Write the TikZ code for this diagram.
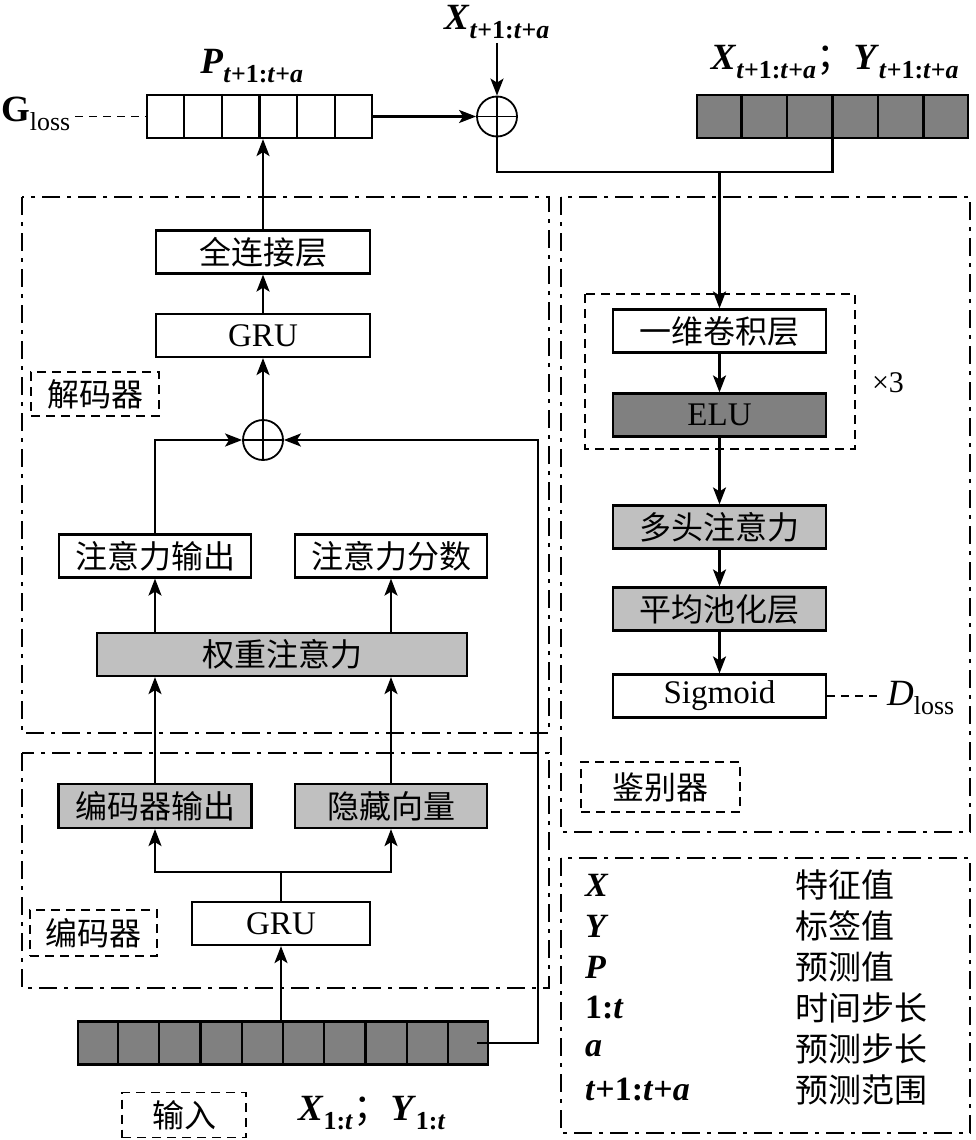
\documentclass[tikz,border=0pt]{standalone}
\usepackage{fontspec}
\setmainfont{Liberation Serif}
\newfontfamily\cjk{Noto Sans CJK SC}
\usetikzlibrary{arrows.meta, positioning, calc}
\definecolor{darkcell}{HTML}{808080}
\definecolor{lightcell}{HTML}{C0C0C0}
\newcommand{\bvar}[1]{\textbf{\textit{#1}}}
\newcommand{\futr}{\textsubscript{\bvar{t}\textbf{+1:}\bvar{t}\textbf{+}\bvar{a}}}
\newcommand{\past}{\textsubscript{\textbf{1:}\bvar{t}}}

\begin{document}
\begin{tikzpicture}[
      x=1pt, y=-1pt,
      line width=2.2pt,
      font=\fontsize{33}{35}\selectfont,
      box/.style={rectangle, draw, line width=2.2pt, inner sep=0pt,
                  minimum height=43pt, font=\cjk\fontsize{32}{34}\selectfont},
      latinbox/.style={box, font=\fontsize{33}{35}\selectfont},
      bar/.style={rectangle, draw, line width=2.2pt, inner sep=0pt, minimum height=43pt},
      sum/.style={circle, draw, line width=1.8pt, minimum size=40pt, inner sep=0pt,
                  path picture={\draw[line width=1.8pt]
                    (path picture bounding box.north) -- (path picture bounding box.south)
                    (path picture bounding box.west) -- (path picture bounding box.east);}},
      frame/.style={line width=2.2pt, dash pattern=on 18pt off 7pt on 4pt off 7pt},
      tag/.style={draw, line width=1.8pt, dash pattern=on 9pt off 6pt, inner sep=0pt,
                  font=\cjk\fontsize{32}{34}\selectfont},
      lbl/.style={font=\fontsize{37}{39}\selectfont},
      arr/.style={-{Stealth[length=17pt, width=13pt, inset=4pt]}, line width=2.2pt}
    ]
      \useasboundingbox (0,0) rectangle (975,1140);

      % frames
      \draw[frame] (22,197) rectangle (549,733);
      \draw[frame] (22,753) rectangle (549,988);
      \draw[frame] (561,197) rectangle (970,832);
      \draw[frame] (561,858) rectangle (970,1133);
      \draw[line width=1.8pt, dash pattern=on 9pt off 6pt] (585,294) rectangle (855,449);

      % bars
      \node[bar, minimum width=225pt] (pbar) at (259.5,116.5) {};
      \node[bar, fill=darkcell, minimum width=271pt] (xybar) at (832.5,116.5) {};
      \node[bar, fill=darkcell, minimum width=410pt] (inbar) at (283,1043) {};
      \foreach \i in {1,...,5} {
        \draw ($(pbar.north west)!\i/6!(pbar.north east)$) -- ($(pbar.south west)!\i/6!(pbar.south east)$);
        \draw ($(xybar.north west)!\i/6!(xybar.north east)$) -- ($(xybar.south west)!\i/6!(xybar.south east)$);
      }
      \foreach \i in {1,...,9}
        \draw ($(inbar.north west)!\i/10!(inbar.north east)$) -- ($(inbar.south west)!\i/10!(inbar.south east)$);

      \node[lbl] (plabel) at (252,66) {\bvar{P}\futr};
      \node[lbl] (xylabel) at (835,62) {\bvar{X}\futr{\cjk ；}\bvar{Y}\futr};
      \node[lbl] (xtop) at (497,22) {\bvar{X}\futr};
      \node[lbl] (gloss) at (36,114) {\textbf{G}\textsubscript{loss}};
      \node[sum] (topsum) at (497,116.5) {};

      % decoder
      \node[box, minimum width=214pt] (fc) at (263,252) {全连接层};
      \node[latinbox, minimum width=214pt] (dgru) at (263,335.5) {GRU};
      \node[sum] (dsum) at (263,440) {};
      \node[box, minimum width=192pt] (attout) at (155,556) {注意力输出};
      \node[box, minimum width=192pt] (attscore) at (391,556) {注意力分数};
      \node[box, fill=lightcell, minimum width=370pt] (wattn) at (282,654.5) {权重注意力};
      \node[tag, minimum width=128pt, minimum height=44pt] (dectag) at (95,394) {解码器};

      % encoder
      \node[box, fill=lightcell, minimum width=193pt, minimum height=44pt] (encout) at (155,806) {编码器输出};
      \node[box, fill=lightcell, minimum width=192pt, minimum height=44pt] (hidden) at (391,806) {隐藏向量};
      \node[latinbox, minimum width=178pt] (egru) at (281,923.5) {GRU};
      \node[tag, minimum width=127pt, minimum height=46pt] (enctag) at (93.5,933) {编码器};

      \node[tag, minimum width=124pt, minimum height=45pt] (intag) at (184,1115) {输入};
      \node[lbl] (inlabel) at (372,1113) {\bvar{X}\past{\cjk ；}\bvar{Y}\past};

      % discriminator
      \node[box, minimum width=213pt] (conv) at (719.5,331) {一维卷积层};
      \node[latinbox, fill=darkcell, minimum width=213pt] (elu) at (719.5,415) {ELU};
      \node[box, fill=lightcell, minimum width=213pt] (mha) at (719.5,527) {多头注意力};
      \node[box, fill=lightcell, minimum width=213pt] (pool) at (719.5,609) {平均池化层};
      \node[latinbox, minimum width=213pt] (sig) at (719.5,696) {Sigmoid};
      \node[font=\fontsize{30}{32}\selectfont] (times) at (888,383) {×3};
      \node[lbl] (dloss) at (921,698) {\textit{D}\textsubscript{loss}};
      \node[tag, minimum width=159pt, minimum height=50pt] (disctag) at (660.5,787) {鉴别器};

      % legend
      \foreach \sym/\desc [count=\k] in {\bvar{X}/特征值, \bvar{Y}/标签值, \bvar{P}/预测值,
          {\textbf{1:}\bvar{t}}/时间步长, \bvar{a}/预测步长,
          {\bvar{t}\textbf{+1:}\bvar{t}\textbf{+}\bvar{a}}/预测范围} {
        \node[anchor=west, inner sep=0pt, font=\fontsize{34}{36}\selectfont] (legsym\k) at (584,{885+41*(\k-1)}) {\sym};
        \node[anchor=west, inner sep=0pt, font=\cjk\fontsize{33}{35}\selectfont] (legdesc\k) at (794,{885+41*(\k-1)}) {\desc};
      }

      % connectors
      \draw[dash pattern=on 8pt off 6pt, line width=1.8pt] (pbar.west -| gloss.east) -- (pbar.west);
      \draw[dash pattern=on 8pt off 6pt, line width=1.8pt] (sig.east) -- (sig.east -| dloss.west);
      \draw[arr] (xtop.south) -- (topsum.north);
      \draw[arr] (pbar.east) -- (topsum.west);
      \coordinate (merge) at (conv.north |- 0,172);
      \draw (topsum.south) |- (merge) -| (xybar.south);
      \draw[arr] (merge) -- (conv.north);
      \draw[arr] (conv) -- (elu);
      \draw[arr] (elu) -- (mha);
      \draw[arr] (mha) -- (pool);
      \draw[arr] (pool) -- (sig);

      \draw[arr] (fc.north) -- (fc.north |- pbar.south);
      \draw[arr] (dgru) -- (fc);
      \draw[arr] (dsum) -- (dgru);
      \draw[arr] (attout.north) |- (dsum.west);
      \draw[arr] (attout.south |- wattn.north) -- (attout.south);
      \draw[arr] (attscore.south |- wattn.north) -- (attscore.south);
      \draw[arr] (encout.north) -- (encout.north |- wattn.south);
      \draw[arr] (hidden.north) -- (hidden.north |- wattn.south);

      \coordinate (split) at (egru.north |- 0,872);
      \draw (egru.north) -- (split);
      \draw[arr] (split) -| (encout.south);
      \draw[arr] (split) -| (hidden.south);
      \draw[arr] (inbar.north -| egru.south) -- (egru.south);
      \coordinate (fbturn) at (538,1043);
      \draw[arr] ([xshift=-12pt]inbar.east) -- (fbturn) |- (dsum.east);
    \end{tikzpicture}
\end{document}
